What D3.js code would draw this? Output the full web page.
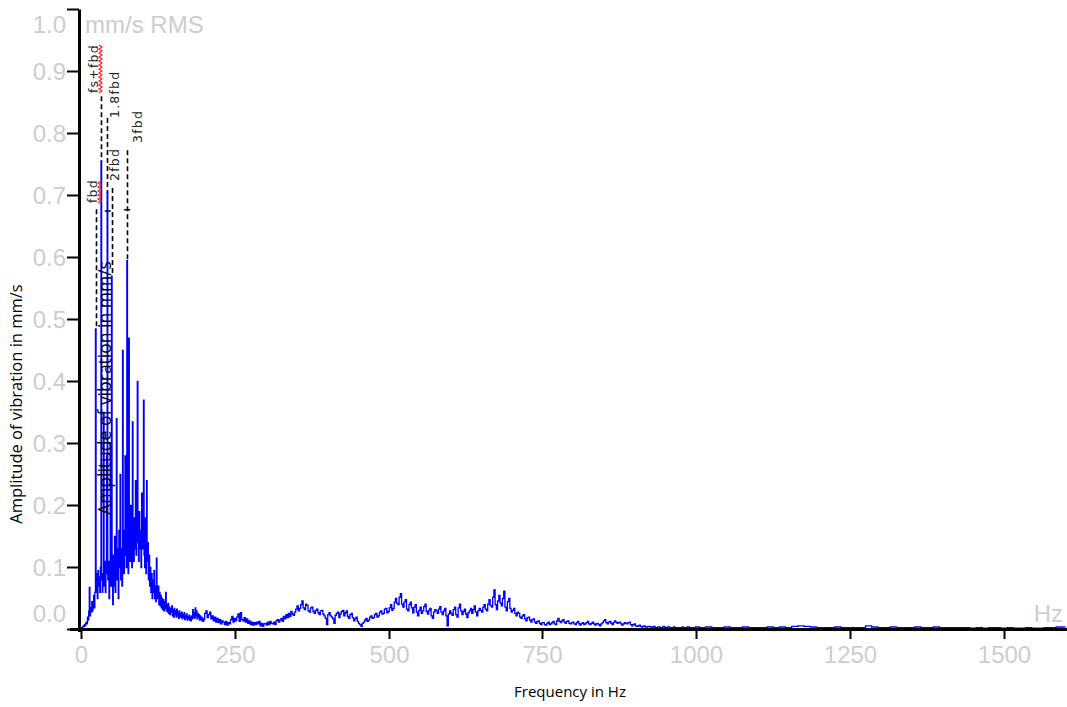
<!DOCTYPE html>
<html><head><meta charset="utf-8">
<script src="https://cdn.jsdelivr.net/npm/d3@7"></script>
<style>body{margin:0;background:#fff}svg{display:block}</style>
</head><body><svg id="c" width="1067" height="707"></svg>
<script>
// ---- data ----
const yTicks = [0, 0.1, 0.2, 0.3, 0.4, 0.5, 0.6, 0.7, 0.8, 0.9, 1.0];
const yTickLabels = ["0.0","0.1","0.2","0.3","0.4","0.5","0.6","0.7","0.8","0.9","1.0"];
const xTicks = [0, 250, 500, 750, 1000, 1250, 1500];
const xTickLabels = ["0","250","500","750","1000","1250","1500"];

// spectrum, 0..200 Hz every 1 Hz
const lowStartHz = 0, lowStepHz = 1;
const ampLow = [
0.000,0.002,0.003,0.004,0.006,0.005,0.008,0.006,0.010,0.012,
0.009,0.020,0.015,0.030,0.068,0.022,0.035,0.028,0.045,0.030,
0.040,0.055,0.035,0.060,0.485,0.060,0.090,0.050,0.095,0.070,
0.085,0.060,0.100,0.755,0.080,0.060,0.090,0.350,0.070,0.110,
0.060,0.090,0.280,0.705,0.080,0.110,0.050,0.100,0.300,0.070,
0.570,0.090,0.040,0.120,0.070,0.150,0.060,0.110,0.340,0.080,
0.130,0.050,0.160,0.100,0.250,0.080,0.130,0.070,0.450,0.120,
0.090,0.160,0.280,0.120,0.100,0.595,0.130,0.090,0.470,0.150,
0.110,0.200,0.130,0.100,0.335,0.140,0.110,0.180,0.130,0.240,
0.120,0.150,0.400,0.140,0.110,0.190,0.130,0.160,0.100,0.220,
0.130,0.150,0.370,0.120,0.100,0.180,0.090,0.240,0.110,0.140,
0.080,0.120,0.070,0.100,0.060,0.090,0.050,0.080,0.060,0.095,
0.050,0.070,0.045,0.115,0.060,0.050,0.070,0.040,0.060,0.038,
0.055,0.035,0.050,0.032,0.048,0.030,0.045,0.034,0.060,0.030,
0.040,0.028,0.042,0.026,0.036,0.024,0.034,0.028,0.038,0.022,
0.032,0.020,0.034,0.024,0.030,0.020,0.033,0.022,0.028,0.018,
0.030,0.021,0.026,0.019,0.028,0.017,0.024,0.019,0.027,0.016,
0.022,0.018,0.025,0.015,0.021,0.017,0.023,0.015,0.020,0.014,
0.022,0.017,0.032,0.020,0.027,0.018,0.035,0.022,0.030,0.017,
0.026,0.019,0.024,0.015,0.022,0.016,0.020,0.014,0.018,0.013,
0.016
];
// spectrum, 202..1000 Hz every 2 Hz
const midStartHz = 202, midStepHz = 2;
const ampMid = [
0.026,0.030,0.019,0.024,0.028,0.017,0.022,0.014,0.020,0.012,
0.018,0.011,0.016,0.009,0.014,0.012,0.008,0.013,0.007,0.011,
0.009,0.016,0.021,0.012,0.018,0.014,0.020,0.025,0.013,0.027,
0.016,0.014,0.019,0.012,0.017,0.010,0.014,0.008,0.012,0.007,
0.011,0.008,0.012,0.009,0.013,0.006,0.010,0.005,0.009,0.010,
0.007,0.012,0.008,0.013,0.010,0.009,0.012,0.008,0.014,0.016,
0.012,0.015,0.018,0.013,0.021,0.017,0.024,0.019,0.026,0.021,
0.029,0.025,0.023,0.028,0.033,0.038,0.030,0.034,0.040,0.046,
0.035,0.032,0.041,0.039,0.030,0.028,0.035,0.036,0.029,0.026,
0.031,0.033,0.027,0.024,0.030,0.031,0.025,0.022,0.018,0.008,
0.024,0.027,0.022,0.020,0.017,0.010,0.023,0.026,0.028,0.019,
0.025,0.029,0.031,0.022,0.027,0.030,0.021,0.018,0.024,0.026,
0.019,0.014,0.017,0.020,0.013,0.010,0.008,0.005,0.010,0.012,
0.015,0.018,0.013,0.015,0.020,0.022,0.018,0.019,0.024,0.026,
0.020,0.022,0.028,0.030,0.025,0.026,0.033,0.034,0.027,0.029,
0.035,0.040,0.031,0.034,0.044,0.050,0.042,0.040,0.052,0.058,
0.041,0.036,0.044,0.048,0.033,0.030,0.040,0.044,0.035,0.027,
0.036,0.040,0.028,0.022,0.031,0.036,0.026,0.030,0.037,0.041,
0.029,0.025,0.031,0.034,0.022,0.018,0.028,0.032,0.030,0.026,
0.033,0.037,0.028,0.024,0.030,0.034,0.022,0.006,0.025,0.030,
0.026,0.023,0.032,0.036,0.024,0.020,0.035,0.041,0.030,0.024,
0.029,0.033,0.025,0.019,0.027,0.030,0.034,0.026,0.032,0.038,
0.028,0.022,0.030,0.034,0.031,0.028,0.036,0.040,0.033,0.030,
0.041,0.048,0.039,0.036,0.052,0.064,0.040,0.032,0.046,0.055,
0.043,0.038,0.050,0.062,0.036,0.030,0.045,0.050,0.034,0.028,
0.031,0.034,0.026,0.022,0.028,0.026,0.020,0.018,0.022,0.024,
0.017,0.014,0.019,0.020,0.015,0.012,0.016,0.017,0.012,0.010,
0.013,0.014,0.010,0.008,0.011,0.011,0.008,0.007,0.010,0.012,
0.008,0.009,0.011,0.013,0.009,0.008,0.014,0.018,0.013,0.011,
0.014,0.016,0.012,0.010,0.013,0.014,0.010,0.009,0.011,0.012,
0.009,0.008,0.011,0.013,0.009,0.007,0.010,0.011,0.008,0.009,
0.011,0.013,0.009,0.008,0.010,0.012,0.009,0.007,0.009,0.010,
0.008,0.006,0.009,0.011,0.014,0.016,0.011,0.009,0.012,0.013,
0.010,0.008,0.011,0.014,0.012,0.010,0.011,0.012,0.009,0.007,
0.009,0.011,0.010,0.009,0.011,0.012,0.008,0.006,0.008,0.009,
0.006,0.005,0.006,0.007,0.005,0.004,0.005,0.006,0.004,0.004,
0.005,0.005,0.004,0.003,0.004,0.005,0.003,0.003,0.004,0.004,
0.003,0.003,0.004,0.005,0.003,0.003,0.004,0.004,0.003,0.003,
0.003,0.004,0.003,0.003,0.002,0.003,0.003,0.003,0.004,0.003,
0.003,0.003,0.004,0.004,0.003,0.003,0.003,0.003,0.003,0.004
];
// spectrum, 1010..1600 Hz every 10 Hz
const highStartHz = 1010, highStepHz = 10;
const ampHigh = [
0.003,0.004,0.003,0.003,0.004,0.003,0.003,0.004,0.003,0.003,
0.003,0.004,0.003,0.004,0.003,0.005,0.006,0.005,0.004,0.003,
0.003,0.003,0.004,0.003,0.003,0.003,0.003,0.006,0.004,0.003,
0.003,0.004,0.003,0.003,0.003,0.004,0.003,0.003,0.004,0.003,
0.003,0.003,0.003,0.003,0.002,0.003,0.002,0.003,0.003,0.002,
0.003,0.002,0.002,0.003,0.002,0.002,0.003,0.003,0.004,0.004
];

// cursor markers
const markerNames = ["fbd", "fs+fbd", "1.8fbd", "2fbd", "3fbd"];
const markerHz    = [24, 33, 43, 50, 75];
const markerTop   = [0.678, 0.860, 0.825, 0.712, 0.773];

// ---- build series ----
const spectrum = [];
ampLow.forEach((v,i)=>spectrum.push({f: lowStartHz + i*lowStepHz, a: v}));
ampMid.forEach((v,i)=>spectrum.push({f: midStartHz + i*midStepHz, a: v}));
ampHigh.forEach((v,i)=>spectrum.push({f: highStartHz + i*highStepHz, a: v}));

// ---- drawing ----
const svg = d3.select("#c");
svg.append("rect").attr("width",1067).attr("height",707).attr("fill","#fff");

const x = d3.scaleLinear().domain([0,1600]).range([81,1065.5]);
const y = d3.scaleLinear().domain([0,1]).range([629.5,9.5]);
const grey = "#cdcdcd";
const tickFont = "'Liberation Sans', Arial, sans-serif";

// spectrum line (stepped, like the analyser's pixel trace)
svg.append("path").datum(spectrum)
  .attr("fill","none").attr("stroke","#0000ff").attr("stroke-width",1.3)
  .attr("d", d3.line().curve(d3.curveStep).x(d=>x(d.f)).y(d=>y(d.a)));

// markers (label layout: glyph-centre x in px, bottom of label in px)
const ampAt = f => { const p = spectrum.find(d=>d.f===f); return p ? p.a : 0; };
const labelCx = [92, 93, 114, 114, 137];
const labelBottomPx = [203, 93, 118, 181, 143];
const squiggle = [true, true, false, false, false];
markerNames.forEach((name,i)=>{
  const xf = Math.round(x(markerHz[i])) + 0.5;
  svg.append("line").attr("x1",xf).attr("x2",xf)
    .attr("y1",y(markerTop[i])).attr("y2",y(ampAt(markerHz[i])))
    .attr("stroke","#000").attr("stroke-width",1.6).attr("stroke-dasharray","5,3");
  const bx = labelCx[i] + 4.5;
  const ly = labelBottomPx[i];
  const t = svg.append("text").attr("transform",`translate(${bx},${ly}) rotate(-90)`)
    .attr("font-family","'DejaVu Sans', sans-serif").attr("font-size",12.5)
    .attr("letter-spacing",1.2).attr("fill","#222").text(name);
  if (squiggle[i]) {
    const len = t.node().getComputedTextLength();
    const sx = bx + 3;
    let pts = [];
    for (let k=0; k<=len; k+=2) pts.push([sx + ((k/2)%2 ? 1.5 : -1.5), ly - k]);
    svg.append("path").attr("d", d3.line()(pts)).attr("fill","none")
      .attr("stroke","#ff2020").attr("stroke-width",1.2);
  }
});
// small horizontal cursor ticks
[[43.5,0.675],[75,0.677]].forEach(([f,v])=>{
  svg.append("line").attr("x1",x(f)-3).attr("x2",x(f)+3).attr("y1",y(v)).attr("y2",y(v))
    .attr("stroke","#000").attr("stroke-width",1.5);
});

// axes
svg.append("line").attr("x1",79.5).attr("x2",79.5).attr("y1",y(1)).attr("y2",632)
  .attr("stroke","#000").attr("stroke-width",3);
svg.append("line").attr("x1",70).attr("x2",1067).attr("y1",629.5).attr("y2",629.5)
  .attr("stroke","#000").attr("stroke-width",3);

yTicks.forEach((v,i)=>{
  const yy = y(v);
  svg.append("line").attr("x1",67).attr("x2",79).attr("y1",yy).attr("y2",yy)
    .attr("stroke","#000").attr("stroke-width",2);
  const cy = Math.max(24, Math.min(613.5, yy));
  svg.append("text").attr("x",66).attr("y",cy+8.6).attr("text-anchor","end")
    .attr("font-family",tickFont).attr("font-size",24).attr("fill",grey)
    .text(yTickLabels[i]);
});
xTicks.forEach((v,i)=>{
  const xx = Math.round(x(v)) + 0.5;
  svg.append("line").attr("x1",xx).attr("x2",xx).attr("y1",630).attr("y2",639)
    .attr("stroke","#000").attr("stroke-width",2);
  svg.append("text").attr("x",xx).attr("y",662.5).attr("text-anchor","middle")
    .attr("font-family",tickFont).attr("font-size",24).attr("fill",grey)
    .text(xTickLabels[i]);
});
svg.append("text").attr("x",85).attr("y",33).attr("font-family",tickFont)
  .attr("font-size",24).attr("fill",grey).text("mm/s RMS");
svg.append("text").attr("x",1063).attr("y",622).attr("text-anchor","end")
  .attr("font-family",tickFont).attr("font-size",24).attr("fill",grey).text("Hz");

// titles
const titleFont = "'Open Sans', 'Noto Sans', sans-serif";
svg.append("text").attr("transform","translate(22,404) rotate(-90)")
  .attr("text-anchor","middle").attr("font-family",titleFont).attr("font-size",16.5)
  .attr("fill","#000").text("Amplitude of vibration in mm/s");
svg.append("text").attr("transform","translate(111,388) rotate(-90)")
  .attr("text-anchor","middle").attr("font-family",titleFont).attr("font-size",17.5)
  .attr("fill","#000").text("Amplitude of vibration in mm/s");
svg.append("text").attr("x",570).attr("y",697).attr("text-anchor","middle")
  .attr("font-family",titleFont).attr("font-size",15)
  .attr("fill","#000").text("Frequency in Hz");
</script>
</body></html>
